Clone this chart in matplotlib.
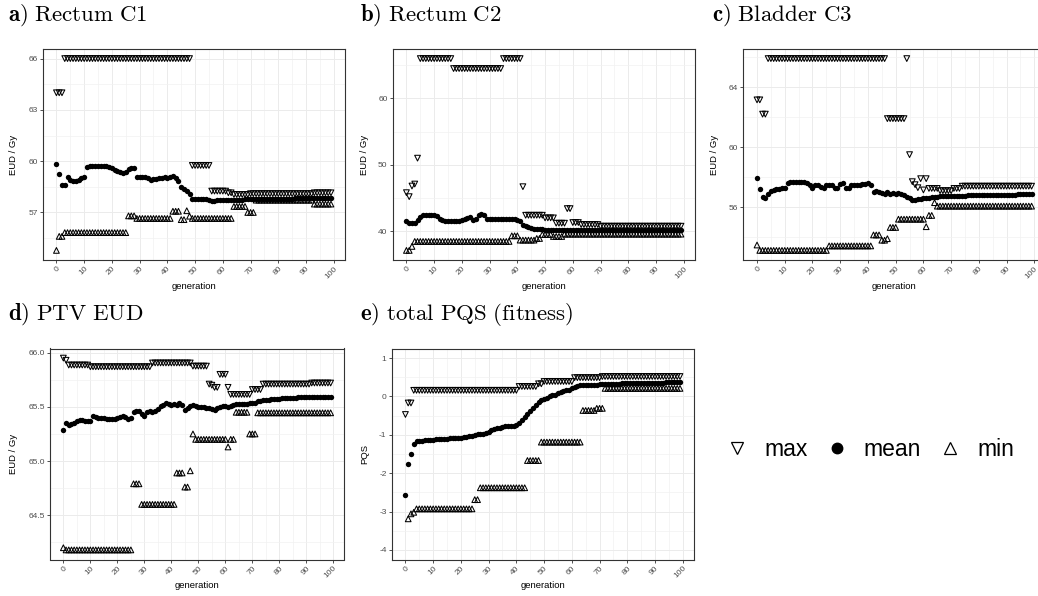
import matplotlib
matplotlib.use("Agg")
import matplotlib.pyplot as plt
import numpy as np
from matplotlib.lines import Line2D
from matplotlib.ticker import FixedLocator, FormatStrFormatter

plt.rcParams["font.family"] = ["Liberation Sans", "DejaVu Sans"]
plt.rcParams["mathtext.fontset"] = "cm"

W, H = 1038, 596

generation = np.arange(100)

# a) Rectum C1
a_max = [64.0, 64.0, 64.0, 66.0, 66.0, 66.0, 66.0, 66.0, 66.0, 66.0, 66.0, 66.0, 66.0, 66.0, 66.0, 66.0, 66.0, 66.0, 66.0, 66.0,
         66.0, 66.0, 66.0, 66.0, 66.0, 66.0, 66.0, 66.0, 66.0, 66.0, 66.0, 66.0, 66.0, 66.0, 66.0, 66.0, 66.0, 66.0, 66.0, 66.0,
         66.0, 66.0, 66.0, 66.0, 66.0, 66.0, 66.0, 66.0, 66.0, 59.75, 59.75, 59.75, 59.75, 59.75, 59.75, 59.75, 58.25, 58.25, 58.25, 58.25,
         58.25, 58.25, 58.15, 58.15, 58.05, 58.05, 58.05, 58.05, 58.05, 58.05, 58.1, 58.1, 58.1, 58.1, 58.1, 58.1, 58.1, 58.1, 58.1, 58.1,
         58.1, 58.1, 58.1, 58.1, 58.1, 58.1, 58.1, 58.1, 58.1, 58.1, 58.1, 58.1, 58.1, 58.15, 58.15, 58.15, 58.15, 58.15, 58.15, 58.15]
a_mean = [59.82, 59.24, 58.6, 58.6, 59.1, 58.9, 58.85, 58.85, 58.9, 59.0, 59.05, 59.65, 59.7, 59.72, 59.72, 59.72, 59.72, 59.7, 59.7, 59.68,
          59.6, 59.5, 59.45, 59.35, 59.3, 59.35, 59.55, 59.6, 59.6, 59.1, 59.1, 59.05, 59.05, 59.0, 58.9, 58.95, 58.95, 59.0, 59.0, 59.05,
          59.0, 59.1, 59.15, 59.0, 58.85, 58.5, 58.4, 58.25, 58.1, 57.8, 57.78, 57.78, 57.77, 57.77, 57.76, 57.72, 57.68, 57.68, 57.7, 57.7,
          57.72, 57.72, 57.73, 57.73, 57.74, 57.74, 57.75, 57.75, 57.76, 57.76, 57.77, 57.77, 57.77, 57.78, 57.78, 57.78, 57.79, 57.79, 57.79, 57.8,
          57.8, 57.8, 57.8, 57.81, 57.81, 57.81, 57.82, 57.82, 57.82, 57.82, 57.83, 57.83, 57.83, 57.83, 57.84, 57.84, 57.84, 57.85, 57.85, 57.85]
a_min = [54.78, 55.6, 55.6, 55.82, 55.82, 55.82, 55.82, 55.82, 55.82, 55.82, 55.82, 55.82, 55.82, 55.82, 55.82, 55.82, 55.82, 55.82, 55.82, 55.82,
         55.82, 55.82, 55.82, 55.82, 55.82, 55.82, 56.8, 56.8, 56.8, 56.65, 56.65, 56.65, 56.65, 56.65, 56.65, 56.65, 56.65, 56.65, 56.65, 56.65,
         56.65, 56.65, 57.07, 57.07, 57.07, 56.58, 56.58, 57.1, 56.78, 56.65, 56.65, 56.65, 56.65, 56.65, 56.65, 56.65, 56.65, 56.65, 56.65, 56.65,
         56.65, 56.65, 56.65, 56.65, 57.35, 57.35, 57.35, 57.35, 57.35, 57.0, 57.0, 57.0, 57.72, 57.72, 57.72, 57.72, 57.72, 57.72, 57.72, 57.72,
         57.72, 57.72, 57.72, 57.72, 57.72, 57.72, 57.72, 57.72, 57.72, 57.72, 57.72, 57.72, 57.72, 57.49, 57.49, 57.49, 57.49, 57.49, 57.49, 57.49]

# b) Rectum C2
b_max = [45.8, 45.2, 46.8, 47.1, 51.0, 66.0, 66.0, 66.0, 66.0, 66.0, 66.0, 66.0, 66.0, 66.0, 66.0, 66.0, 66.0, 64.5, 64.5, 64.5,
         64.5, 64.5, 64.5, 64.5, 64.5, 64.5, 64.5, 64.5, 64.5, 64.5, 64.5, 64.5, 64.5, 64.5, 64.5, 66.0, 66.0, 66.0, 66.0, 66.0,
         66.0, 66.0, 46.7, 42.4, 42.4, 42.4, 42.4, 42.4, 42.4, 42.4, 42.0, 42.0, 42.0, 42.0, 41.2, 41.2, 41.2, 41.2, 43.4, 43.4,
         41.3, 41.3, 41.3, 41.0, 41.0, 41.0, 41.0, 41.0, 41.0, 41.0, 40.75, 40.75, 40.75, 40.75, 40.75, 40.75, 40.75, 40.75, 40.75, 40.75,
         40.75, 40.75, 40.75, 40.75, 40.75, 40.75, 40.75, 40.75, 40.75, 40.75, 40.75, 40.75, 40.75, 40.75, 40.75, 40.75, 40.75, 40.75, 40.75, 40.75]
b_mean = [41.5, 41.3, 41.2, 41.3, 41.7, 42.2, 42.4, 42.5, 42.5, 42.5, 42.4, 42.3, 41.9, 41.7, 41.6, 41.6, 41.6, 41.6, 41.6, 41.6,
          41.7, 41.8, 42.0, 42.2, 41.7, 41.9, 42.5, 42.6, 42.4, 41.9, 41.8, 41.8, 41.8, 41.8, 41.8, 41.8, 41.9, 41.9, 41.8, 41.8,
          41.7, 41.5, 40.9, 40.8, 40.6, 40.5, 40.4, 40.4, 40.3, 40.3, 40.25, 40.25, 40.25, 40.25, 40.25, 40.25, 40.25, 40.25, 40.25, 40.25,
          40.1, 40.1, 40.1, 40.1, 40.1, 40.1, 40.1, 40.1, 40.1, 40.1, 40.1, 40.1, 40.1, 40.1, 40.1, 40.1, 40.1, 40.1, 40.1, 40.1,
          40.1, 40.1, 40.1, 40.1, 40.1, 40.1, 40.1, 40.1, 40.1, 40.1, 40.1, 40.1, 40.1, 40.1, 40.1, 40.1, 40.1, 40.1, 40.1, 40.1]
b_min = [37.1, 37.1, 37.7, 38.45, 38.45, 38.45, 38.45, 38.45, 38.45, 38.45, 38.45, 38.45, 38.45, 38.45, 38.45, 38.45, 38.45, 38.45, 38.45, 38.45,
         38.45, 38.45, 38.45, 38.45, 38.45, 38.45, 38.45, 38.45, 38.45, 38.45, 38.45, 38.45, 38.45, 38.45, 38.45, 38.45, 38.45, 38.45, 39.3, 39.3,
         39.3, 38.65, 38.65, 38.65, 38.65, 38.65, 38.65, 38.9, 38.9, 39.5, 39.5, 39.5, 39.5, 39.2, 39.2, 39.2, 39.2, 39.55, 39.55, 39.55,
         39.55, 39.55, 39.55, 39.55, 39.55, 39.55, 39.55, 39.55, 39.55, 39.55, 39.55, 39.55, 39.55, 39.55, 39.55, 39.55, 39.55, 39.55, 39.55, 39.55,
         39.55, 39.55, 39.55, 39.55, 39.55, 39.55, 39.55, 39.55, 39.55, 39.55, 39.55, 39.55, 39.55, 39.55, 39.55, 39.55, 39.55, 39.55, 39.55, 39.55]

# c) Bladder C3
c_max = [63.15, 63.15, 62.2, 62.2, 65.9, 65.9, 65.9, 65.9, 65.9, 65.9, 65.9, 65.9, 65.9, 65.9, 65.9, 65.9, 65.9, 65.9, 65.9, 65.9,
         65.9, 65.9, 65.9, 65.9, 65.9, 65.9, 65.9, 65.9, 65.9, 65.9, 65.9, 65.9, 65.9, 65.9, 65.9, 65.9, 65.9, 65.9, 65.9, 65.9,
         65.9, 65.9, 65.9, 65.9, 65.9, 65.9, 65.9, 61.9, 61.9, 61.9, 61.9, 61.9, 61.9, 61.9, 65.9, 59.5, 57.7, 57.5, 57.3, 57.9,
         57.15, 57.9, 57.25, 57.25, 57.25, 57.25, 57.1, 57.1, 57.1, 57.1, 57.1, 57.25, 57.25, 57.25, 57.4, 57.4, 57.4, 57.4, 57.4, 57.4,
         57.4, 57.4, 57.4, 57.4, 57.4, 57.4, 57.4, 57.4, 57.4, 57.4, 57.4, 57.4, 57.4, 57.4, 57.4, 57.4, 57.4, 57.4, 57.4, 57.4]
c_mean = [57.96, 57.24, 56.65, 56.6, 56.9, 57.1, 57.15, 57.2, 57.2, 57.25, 57.3, 57.6, 57.7, 57.7, 57.7, 57.7, 57.65, 57.65, 57.6, 57.5,
          57.3, 57.45, 57.5, 57.35, 57.25, 57.45, 57.5, 57.45, 57.3, 57.25, 57.55, 57.6, 57.3, 57.3, 57.45, 57.45, 57.5, 57.5, 57.55, 57.55,
          57.6, 57.45, 57.0, 57.1, 57.0, 56.95, 56.85, 57.0, 56.9, 56.95, 56.9, 56.95, 56.85, 56.8, 56.7, 56.6, 56.45, 56.48, 56.52, 56.55,
          56.58, 56.6, 56.62, 56.65, 56.68, 56.7, 56.72, 56.72, 56.72, 56.72, 56.75, 56.75, 56.76, 56.76, 56.77, 56.77, 56.78, 56.78, 56.78, 56.78,
          56.8, 56.8, 56.81, 56.81, 56.82, 56.82, 56.82, 56.83, 56.83, 56.83, 56.84, 56.84, 56.84, 56.84, 56.85, 56.85, 56.85, 56.85, 56.85, 56.85]
c_min = [53.48, 53.12, 53.12, 53.12, 53.12, 53.12, 53.12, 53.12, 53.12, 53.12, 53.12, 53.12, 53.12, 53.12, 53.12, 53.12, 53.12, 53.12, 53.12, 53.12,
         53.12, 53.12, 53.12, 53.12, 53.12, 53.12, 53.42, 53.42, 53.42, 53.42, 53.42, 53.42, 53.42, 53.42, 53.42, 53.42, 53.42, 53.42, 53.42, 53.42,
         53.42, 53.42, 54.15, 54.15, 54.15, 53.8, 53.8, 53.9, 54.65, 54.65, 54.65, 55.2, 55.2, 55.2, 55.2, 55.2, 55.2, 55.2, 55.2, 55.2,
         55.2, 54.7, 55.45, 55.45, 56.3, 56.07, 56.07, 56.07, 56.07, 56.07, 56.07, 56.07, 56.07, 56.07, 56.07, 56.07, 56.07, 56.07, 56.07, 56.07,
         56.07, 56.07, 56.07, 56.07, 56.07, 56.07, 56.07, 56.07, 56.07, 56.07, 56.07, 56.07, 56.07, 56.07, 56.07, 56.07, 56.07, 56.07, 56.07, 56.07]

# d) PTV EUD
d_max = [65.95, 65.93, 65.886, 65.886, 65.886, 65.886, 65.886, 65.886, 65.886, 65.886, 65.87, 65.87, 65.87, 65.87, 65.87, 65.87, 65.87, 65.87, 65.87, 65.87,
         65.87, 65.87, 65.87, 65.87, 65.87, 65.87, 65.87, 65.87, 65.87, 65.87, 65.87, 65.87, 65.87, 65.905, 65.905, 65.905, 65.905, 65.905, 65.905, 65.905,
         65.905, 65.905, 65.905, 65.905, 65.905, 65.905, 65.905, 65.905, 65.876, 65.876, 65.876, 65.876, 65.876, 65.876, 65.71, 65.70, 65.68, 65.68, 65.80, 65.80,
         65.80, 65.68, 65.615, 65.615, 65.615, 65.615, 65.615, 65.615, 65.615, 65.615, 65.66, 65.66, 65.66, 65.66, 65.71, 65.71, 65.71, 65.71, 65.71, 65.71,
         65.71, 65.71, 65.71, 65.71, 65.71, 65.71, 65.71, 65.71, 65.71, 65.71, 65.71, 65.71, 65.72, 65.72, 65.72, 65.72, 65.72, 65.72, 65.72, 65.72]
d_mean = [65.29, 65.35, 65.33, 65.34, 65.35, 65.37, 65.38, 65.38, 65.37, 65.37, 65.37, 65.42, 65.41, 65.4, 65.4, 65.4, 65.39, 65.39, 65.39, 65.39,
          65.4, 65.41, 65.42, 65.41, 65.39, 65.4, 65.45, 65.46, 65.46, 65.43, 65.42, 65.45, 65.46, 65.45, 65.46, 65.48, 65.51, 65.52, 65.54, 65.53,
          65.52, 65.53, 65.52, 65.54, 65.52, 65.47, 65.49, 65.51, 65.52, 65.51, 65.5, 65.5, 65.5, 65.49, 65.49, 65.48, 65.47, 65.49, 65.5, 65.51,
          65.51, 65.5, 65.51, 65.52, 65.53, 65.53, 65.53, 65.53, 65.53, 65.54, 65.54, 65.54, 65.55, 65.55, 65.56, 65.56, 65.56, 65.57, 65.57, 65.57,
          65.57, 65.58, 65.58, 65.58, 65.58, 65.58, 65.58, 65.59, 65.59, 65.59, 65.59, 65.59, 65.59, 65.59, 65.59, 65.59, 65.59, 65.59, 65.59, 65.59]
d_min = [64.2, 64.18, 64.18, 64.18, 64.18, 64.18, 64.18, 64.18, 64.18, 64.18, 64.18, 64.18, 64.18, 64.18, 64.18, 64.18, 64.18, 64.18, 64.18, 64.18,
         64.18, 64.18, 64.18, 64.18, 64.18, 64.18, 64.79, 64.79, 64.79, 64.6, 64.6, 64.6, 64.6, 64.6, 64.6, 64.6, 64.6, 64.6, 64.6, 64.6,
         64.6, 64.6, 64.89, 64.89, 64.89, 64.76, 64.76, 64.91, 65.25, 65.2, 65.2, 65.2, 65.2, 65.2, 65.2, 65.2, 65.2, 65.2, 65.2, 65.2,
         65.2, 65.13, 65.2, 65.2, 65.45, 65.45, 65.45, 65.45, 65.45, 65.25, 65.25, 65.25, 65.445, 65.445, 65.445, 65.445, 65.445, 65.445, 65.445, 65.445,
         65.445, 65.445, 65.445, 65.445, 65.445, 65.445, 65.445, 65.445, 65.445, 65.445, 65.445, 65.445, 65.445, 65.445, 65.445, 65.445, 65.445, 65.445, 65.445, 65.445]

# e) total PQS (fitness); the generation-0 minimum lies below the plotted range
e_max = [-0.47, -0.17, -0.17, 0.16, 0.16, 0.16, 0.16, 0.16, 0.16, 0.16, 0.16, 0.16, 0.16, 0.16, 0.16, 0.16, 0.16, 0.16, 0.16, 0.16,
         0.16, 0.16, 0.16, 0.16, 0.16, 0.16, 0.16, 0.16, 0.16, 0.16, 0.16, 0.16, 0.16, 0.16, 0.16, 0.16, 0.16, 0.16, 0.16, 0.16,
         0.16, 0.26, 0.26, 0.26, 0.26, 0.26, 0.26, 0.26, 0.33, 0.33, 0.39, 0.39, 0.39, 0.39, 0.39, 0.39, 0.39, 0.39, 0.39, 0.39,
         0.39, 0.49, 0.49, 0.49, 0.49, 0.49, 0.49, 0.49, 0.49, 0.49, 0.49, 0.52, 0.52, 0.52, 0.52, 0.52, 0.52, 0.52, 0.52, 0.52,
         0.52, 0.52, 0.52, 0.52, 0.52, 0.52, 0.52, 0.52, 0.52, 0.52, 0.52, 0.52, 0.52, 0.52, 0.52, 0.52, 0.52, 0.52, 0.52, 0.52]
e_mean = [-2.58, -1.77, -1.5, -1.25, -1.17, -1.15, -1.15, -1.14, -1.14, -1.13, -1.13, -1.12, -1.12, -1.11, -1.1, -1.1, -1.09, -1.09, -1.08, -1.08,
          -1.07, -1.06, -1.05, -1.04, -1.02, -1.0, -0.99, -0.98, -0.97, -0.95, -0.92, -0.88, -0.85, -0.83, -0.81, -0.79, -0.78, -0.77, -0.77, -0.76,
          -0.74, -0.7, -0.62, -0.53, -0.46, -0.38, -0.3, -0.22, -0.15, -0.1, -0.06, -0.03, 0.0, 0.03, 0.05, 0.08, 0.11, 0.13, 0.16, 0.18,
          0.21, 0.24, 0.27, 0.29, 0.3, 0.3, 0.3, 0.31, 0.31, 0.31, 0.32, 0.32, 0.32, 0.32, 0.33, 0.33, 0.33, 0.33, 0.34, 0.34,
          0.34, 0.34, 0.34, 0.35, 0.35, 0.35, 0.35, 0.35, 0.36, 0.36, 0.36, 0.36, 0.36, 0.36, 0.37, 0.37, 0.37, 0.37, 0.37, 0.37]
e_min = [np.nan, -3.19, -3.06, -3.02, -2.93, -2.93, -2.93, -2.93, -2.93, -2.93, -2.93, -2.93, -2.93, -2.93, -2.93, -2.93, -2.93, -2.93, -2.93, -2.93,
         -2.93, -2.93, -2.93, -2.93, -2.93, -2.69, -2.69, -2.38, -2.38, -2.38, -2.38, -2.38, -2.38, -2.38, -2.38, -2.38, -2.38, -2.38, -2.38, -2.38,
         -2.38, -2.38, -2.38, -2.38, -1.67, -1.67, -1.67, -1.67, -1.67, -1.19, -1.19, -1.19, -1.19, -1.19, -1.19, -1.19, -1.19, -1.19, -1.19, -1.19,
         -1.19, -1.19, -1.19, -1.19, -0.365, -0.365, -0.365, -0.365, -0.365, -0.31, -0.31, -0.31, 0.21, 0.21, 0.21, 0.21, 0.21, 0.21, 0.21, 0.21,
         0.21, 0.21, 0.21, 0.21, 0.21, 0.21, 0.21, 0.21, 0.21, 0.21, 0.21, 0.21, 0.21, 0.21, 0.21, 0.21, 0.21, 0.21, 0.21, 0.21]

x_ticks = list(range(0, 101, 10))

panels = [
    dict(letter="a)", title="Rectum C1", ylabel="EUD / Gy", data=(a_max, a_mean, a_min),
         yticks=[57, 60, 63, 66], fmt="%g", ylim=None, box=(42.7, 49, 302, 211), ylab_x=18, title_xy=(8, 15)),
    dict(letter="b)", title="Rectum C2", ylabel="EUD / Gy", data=(b_max, b_mean, b_min),
         yticks=[40, 50, 60], fmt="%g", ylim=None, box=(392.7, 49, 302, 211), ylab_x=369, title_xy=(360, 15)),
    dict(letter="c)", title="Bladder C3", ylabel="EUD / Gy", data=(c_max, c_mean, c_min),
         yticks=[56, 60, 64], fmt="%g", ylim=None, box=(743.3, 49, 302, 211), ylab_x=719, title_xy=(712, 15)),
    dict(letter="d)", title="PTV EUD", ylabel="EUD / Gy", data=(d_max, d_mean, d_min),
         yticks=[64.5, 65.0, 65.5, 66.0], fmt="%.1f", ylim=None, box=(50, 348.5, 294, 211), ylab_x=18, title_xy=(8, 314)),
    dict(letter="e)", title="total PQS (fitness)", ylabel="PQS", data=(e_max, e_mean, e_min),
         yticks=[-4, -3, -2, -1, 0, 1], fmt="%g", ylim=(-4, 1), box=(391.7, 348.5, 302, 211), ylab_x=369, title_xy=(360, 314)),
]


def rect_px(left, top, width, height):
    return [left / W, 1 - (top + height) / H, width / W, height / H]


fig = plt.figure(figsize=(W / 100, H / 100), dpi=100)

for p in panels:
    ax = fig.add_axes(rect_px(*p["box"]))
    ymax, ymean, ymin = (np.array(v, dtype=float) for v in p["data"])

    ax.scatter(generation, ymax, marker="v", s=17, facecolors="none", edgecolors="black", linewidths=0.75, zorder=3)
    ax.scatter(generation, ymean, marker="o", s=15, color="black", linewidths=0, zorder=3)
    ax.scatter(generation, ymin, marker="^", s=17, facecolors="none", edgecolors="black", linewidths=0.75, zorder=3)

    # ggplot-style 5% expansion of the data (or fixed) range
    if p["ylim"] is None:
        lo = np.nanmin([ymax.min(), ymean.min(), np.nanmin(ymin)])
        hi = np.nanmax([ymax.max(), ymean.max(), np.nanmax(ymin)])
    else:
        lo, hi = p["ylim"]
    pad = 0.05 * (hi - lo)
    ax.set_ylim(lo - pad, hi + pad)
    ax.set_xlim(-0.05 * 99, 99 * 1.05)

    yt = p["yticks"]
    step = yt[1] - yt[0]
    ax.yaxis.set_major_locator(FixedLocator(yt))
    ax.yaxis.set_minor_locator(FixedLocator([yt[0] - step / 2] + [t + step / 2 for t in yt]))
    ax.yaxis.set_major_formatter(FormatStrFormatter(p["fmt"]))
    ax.xaxis.set_major_locator(FixedLocator(x_ticks))
    ax.xaxis.set_minor_locator(FixedLocator([t + 5 for t in x_ticks[:-1]]))

    ax.grid(which="major", color="#EBEBEB", linewidth=0.7, zorder=0)
    ax.grid(which="minor", color="#F2F2F2", linewidth=0.5, zorder=0)
    ax.set_axisbelow(True)
    for s in ax.spines.values():
        s.set_color("#333333")
        s.set_linewidth(0.8)

    ax.tick_params(which="major", length=2.2, width=0.6, color="#333333", labelsize=6.0,
                   labelcolor="#4D4D4D", pad=1.5)
    ax.tick_params(which="minor", length=0)
    plt.setp(ax.get_xticklabels(), rotation=45, ha="right", va="top", rotation_mode="anchor")

    ax.set_xlabel("generation", fontsize=6.8, labelpad=1)
    ax.set_ylabel(p["ylabel"], fontsize=6.8)
    left, top, width, height = p["box"]
    ax.yaxis.set_label_coords((p["ylab_x"] - left) / width, 0.5)

    tx, ty = p["title_xy"]
    fig.text(tx / W, 1 - ty / H, r"$\mathbf{%s}\ \mathrm{%s}$" % (p["letter"], p["title"].replace(" ", r"\ ")),
             fontsize=16.5, ha="left", va="center")

handles = [
    Line2D([], [], linestyle="none", marker="v", markersize=8.5, markerfacecolor="none", markeredgecolor="black", markeredgewidth=0.9),
    Line2D([], [], linestyle="none", marker="o", markersize=7.5, color="black"),
    Line2D([], [], linestyle="none", marker="^", markersize=8.5, markerfacecolor="none", markeredgecolor="black", markeredgewidth=0.9),
]
fig.legend(handles, ["max", "mean", "min"], loc="center", bbox_to_anchor=(870 / W, 1 - 450 / H), ncol=3,
           frameon=False, fontsize=16.5, handletextpad=0.68, columnspacing=0.76, handlelength=1.0)

fig.savefig("out.png", dpi=100)
